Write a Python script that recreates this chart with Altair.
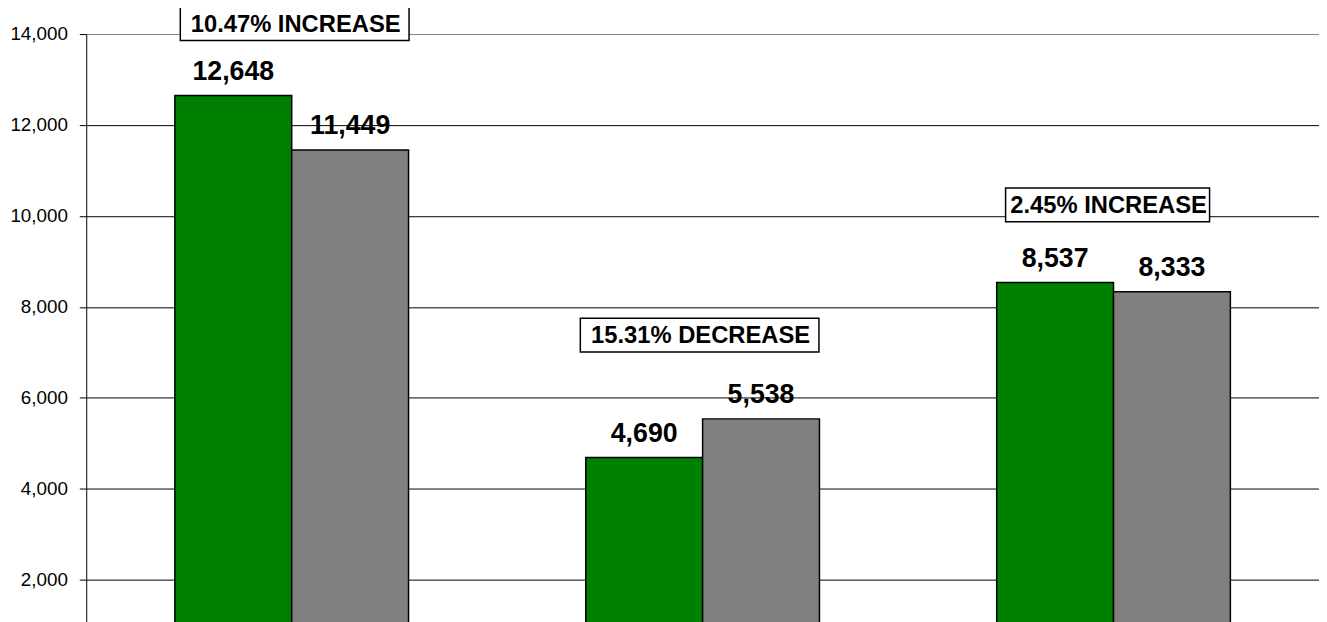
import altair as alt
import pandas as pd

categories = ["Group 1", "Group 2", "Group 3"]
series = ["Current", "Prior"]
current_values = [12648, 4690, 8537]
prior_values = [11449, 5538, 8333]
ann_texts = ["10.47% INCREASE", "15.31% DECREASE", "2.45% INCREASE"]
ann_values = [14230, 7379, 10243]
y_ticks = [2000, 4000, 6000, 8000, 10000, 12000, 14000]

rows = []
for c, a, b in zip(categories, current_values, prior_values):
    rows.append(dict(category=c, series=series[0], value=a, label=f"{a:,}"))
    rows.append(dict(category=c, series=series[1], value=b, label=f"{b:,}"))
bars_df = pd.DataFrame(rows)
ann_df = pd.DataFrame(dict(category=categories, text=ann_texts, value=ann_values))

FONT = "Liberation Sans"

x = alt.X("category:N", sort=categories, axis=None,
          scale=alt.Scale(paddingInner=0.4313, paddingOuter=0.2157))
y = alt.Y("value:Q", scale=alt.Scale(domain=[0, 14000], nice=False),
          axis=alt.Axis(values=y_ticks, format=",.0f", title=None, labelFontSize=19,
                        labelFont=FONT, labelColor="black", labelPadding=12,
                        gridColor=alt.condition("datum.value == 14000", alt.value("#808080"), alt.value("black"))))
xo = alt.XOffset("series:N", sort=series, scale=alt.Scale(paddingInner=0, paddingOuter=0))

base = alt.Chart(bars_df)
bars = base.mark_bar(stroke="black", strokeWidth=1.5).encode(
    x=x, xOffset=xo, y=y,
    color=alt.Color("series:N", scale=alt.Scale(domain=series, range=["#008000", "#808080"]), legend=None),
)
labels = base.mark_text(fontSize=27, fontWeight="bold", font=FONT, baseline="alphabetic",
                        dy=-16, color="black").encode(x=x, xOffset=xo, y=y, text="label:N")

layers = [bars, labels]
box_widths = [231, 241, 206]
box_dx = [3, -3, -6]
for i in range(len(ann_texts)):
    sub = alt.Chart(ann_df.iloc[[i]])
    layers.append(sub.mark_rect(width=box_widths[i], height=34, fill="white", stroke="black",
                                strokeWidth=1.5, xOffset=box_dx[i]).encode(x=x, y=y))
    layers.append(sub.mark_text(fontSize=24, fontWeight="bold", font=FONT, baseline="middle",
                                color="black", dx=box_dx[i] + 1, dy=1).encode(x=x, y=y, text="text:N"))

chart = alt.layer(*layers).properties(
    width=1245, height=643,
    autosize=alt.AutoSizeParams(type="none"),
    padding={"left": 79, "top": 23, "right": 0, "bottom": 0},
).configure_view(stroke=None).configure_axis(
    grid=True, gridWidth=1, domainColor="black",
    tickColor="black", tickSize=7,
)

chart.save("out.html", embed_options={"renderer": "svg", "actions": False})
